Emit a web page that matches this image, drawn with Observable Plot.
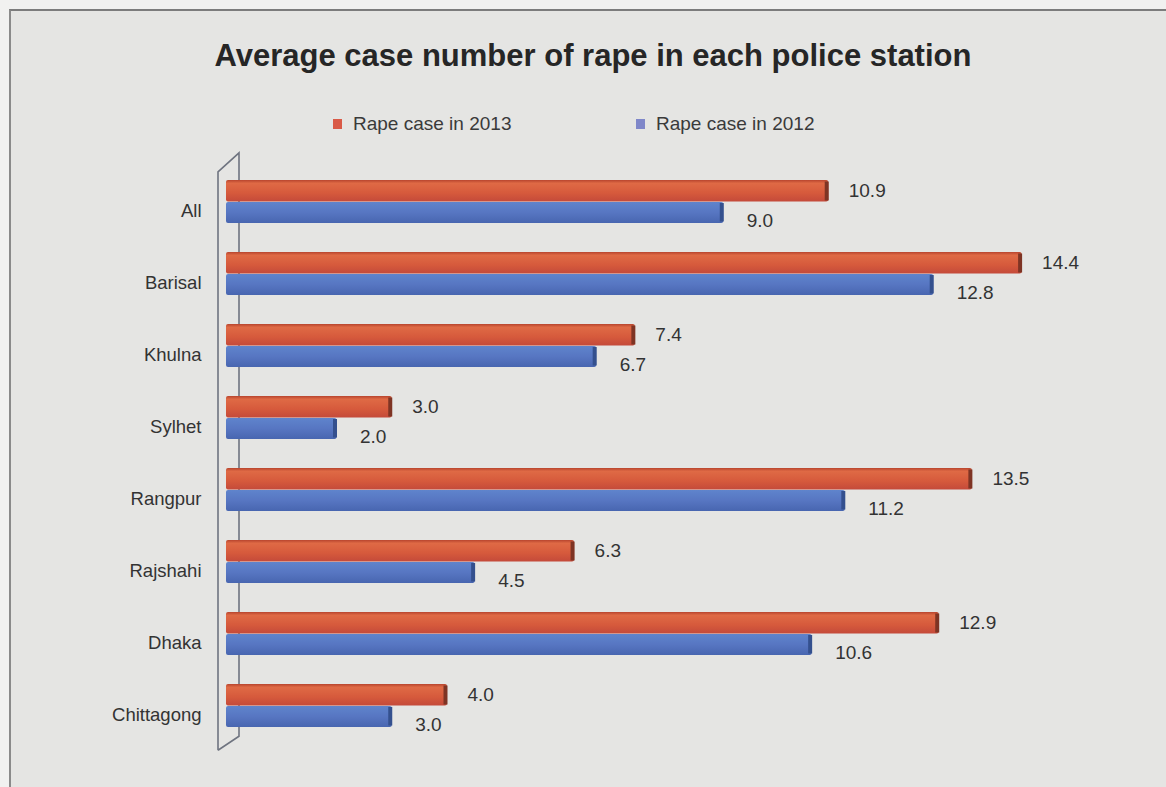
<!DOCTYPE html>
<html>
<head>
<meta charset="utf-8">
<script src="https://cdn.jsdelivr.net/npm/d3@7"></script>
<script src="https://cdn.jsdelivr.net/npm/@observablehq/plot@0.6"></script>
<style>
  html, body { margin: 0; padding: 0; }
  body { width: 1166px; height: 787px; background: #f1f1f0; position: relative; overflow: hidden;
         font-family: "Liberation Sans Narrow", "Arial Narrow", "Liberation Sans", Arial, sans-serif; color: #2e2e2e; }
  #panel { position: absolute; left: 9px; top: 9px; right: -4px; bottom: -4px; background: #e5e5e3;
           border-top: 2px solid #7c7c7c; border-left: 2px solid #8a8a8a; }
  #title { position: absolute; left: 0; width: 1186px; top: 38px; text-align: center; font-size: 31px; font-weight: bold; color: #262626; white-space: nowrap; }
  #legend { position: absolute; top: 113px; left: 0; width: 1166px; height: 26px; font-size: 19px; color: #3a3a3a; }
  .item { position: absolute; top: 0; white-space: nowrap; }
  .sw { display: inline-block; width: 9px; height: 10px; margin-right: 11px; vertical-align: 1px; }
  #chart { position: absolute; left: 0; top: 140px; }
</style>
</head>
<body>
<div id="panel"></div>
<div id="title"></div>
<div id="legend"></div>
<div id="chart"></div>
<script>
// ---- data ----
const titleText = "Average case number of rape in each police station";
const categories = ["All", "Barisal", "Khulna", "Sylhet", "Rangpur", "Rajshahi", "Dhaka", "Chittagong"];
const cases2013 = [10.9, 14.4, 7.4, 3.0, 13.5, 6.3, 12.9, 4.0];
const cases2012 = [9.0, 12.8, 6.7, 2.0, 11.2, 4.5, 10.6, 3.0];
const seriesNames = ["Rape case in 2013", "Rape case in 2012"];
const seriesColors = ["#d95a47", "#7f87c9"];

const rows2013 = categories.map((c, i) => ({cat: c, v: cases2013[i]}));
const rows2012 = categories.map((c, i) => ({cat: c, v: cases2012[i]}));

document.getElementById("title").textContent = titleText;
const legend = document.getElementById("legend");
const legendX = [333, 636];
seriesNames.forEach((name, i) => {
  const it = document.createElement("div");
  it.className = "item";
  it.style.left = legendX[i] + "px";
  it.innerHTML = `<span class="sw" style="background:${seriesColors[i]}"></span>${name}`;
  legend.appendChild(it);
});

// gradient defs + 3D wall drawn via scales
const defsMark = () => {
  const ns = "http://www.w3.org/2000/svg";
  const g = document.createElementNS(ns, "g");
  g.innerHTML = `<defs>
    <linearGradient id="gRed" x1="0" y1="0" x2="0" y2="1">
      <stop offset="0" stop-color="#b8452e"/>
      <stop offset="0.15" stop-color="#df6a45"/>
      <stop offset="0.6" stop-color="#d65a3c"/>
      <stop offset="1" stop-color="#c44a3a"/>
    </linearGradient>
    <linearGradient id="gBlue" x1="0" y1="0" x2="0" y2="1">
      <stop offset="0" stop-color="#5f84cc"/>
      <stop offset="0.5" stop-color="#5776c2"/>
      <stop offset="1" stop-color="#4866b0"/>
    </linearGradient></defs>`;
  return g;
};
const wallMark = (index, scales, values, dim) => {
  const ns = "http://www.w3.org/2000/svg";
  const x0 = scales.x(0);
  const top = dim.marginTop, bot = dim.height - dim.marginBottom;
  const fx = x0 - 8, bx = x0 + 13;
  const p = document.createElementNS(ns, "path");
  p.setAttribute("d",
    `M${fx},${bot + 8} L${fx},${top + 8} L${bx},${top - 11} L${bx},${bot - 6} L${fx},${bot + 8}`);
  p.setAttribute("fill", "none");
  p.setAttribute("stroke", "#6f7480");
  p.setAttribute("stroke-width", 1.6);
  return p;
};

const chart = Plot.plot({
  width: 1166,
  height: 647,
  marginLeft: 226,
  marginRight: 56,
  marginTop: 23.85,
  marginBottom: 44.75,
  style: {background: "transparent", fontFamily: "'Liberation Sans Narrow', 'Arial Narrow', 'Liberation Sans', Arial, sans-serif"},
  x: {domain: [0, 16], axis: null},
  y: {domain: categories, paddingInner: 0.405, paddingOuter: 0.2025, axis: null},
  marks: [
    defsMark,
    wallMark,
    Plot.axisY({tickSize: 0, tickPadding: 25, fontSize: 18.5, dy: 9, label: null, color: "#333"}),
    Plot.barX(rows2013, {x: "v", y: "cat", fill: "url(#gRed)", insetBottom: 21.5, insetTop: 0, rx: 2}),
    Plot.barX(rows2012, {x: "v", y: "cat", fill: "url(#gBlue)", insetTop: 22, rx: 2}),
    Plot.tickX(rows2013, {x: "v", y: "cat", stroke: "#7e3424", strokeWidth: 4, dx: -2, insetBottom: 22.5, insetTop: 1.5}),
    Plot.tickX(rows2012, {x: "v", y: "cat", stroke: "#34508e", strokeWidth: 4, dx: -2, insetTop: 23, insetBottom: 1.5}),
    Plot.text(rows2013, {x: "v", y: "cat", text: d => d.v.toFixed(1), dx: 20, dy: -11, textAnchor: "start", fontSize: 19, fill: "#333"}),
    Plot.text(rows2012, {x: "v", y: "cat", text: d => d.v.toFixed(1), dx: 23, dy: 19, textAnchor: "start", fontSize: 19, fill: "#333"})
  ]
});
document.getElementById("chart").appendChild(chart);
</script>
</body>
</html>
